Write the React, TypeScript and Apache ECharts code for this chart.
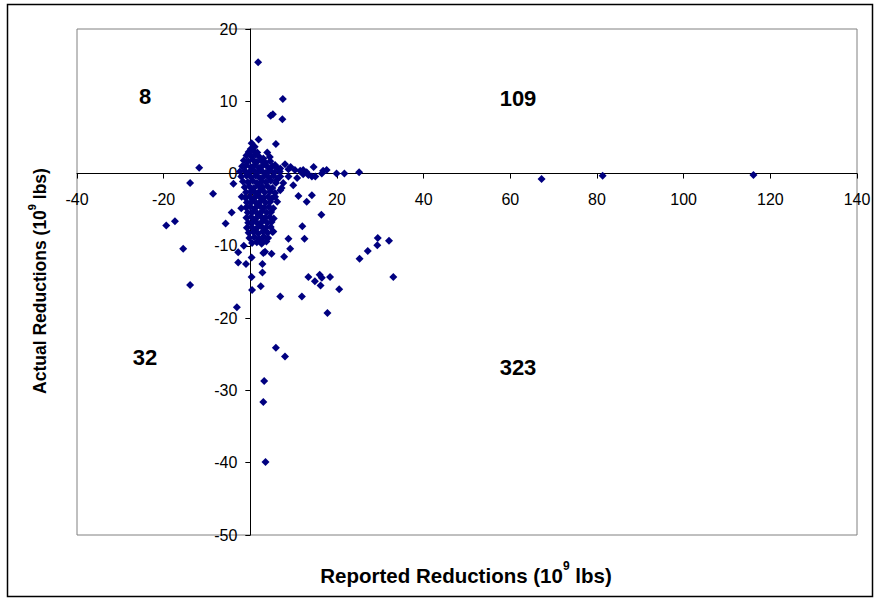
import React, { useEffect, useRef } from "react";
import * as echarts from "echarts";

// ---- Data ----
const xTicks = { min: -40, max: 140, step: 20 };
const yTicks = { min: -50, max: 20, step: 10 };

const quadrantLabels: [string, number, number][] = [
  ["8", 145, 96],
  ["109", 518, 98],
  ["32", 145, 357],
  ["323", 518, 367],
];

// dense cluster near the origin
const clusterPoints: [number, number][] = [
  [0.3, 4.2], [1.0, 3.7], [0.1, 3.4], [-0.4, 3.0], [0.8, 3.1], [1.6, 2.9],
  [-0.9, 2.5], [0.2, 2.4], [1.1, 2.6], [2.1, 2.3], [3.0, 2.1],
  [-1.5, 1.8], [-0.5, 1.7], [0.6, 1.9], [1.5, 1.6], [2.5, 1.8], [3.5, 1.5], [4.6, 1.7],
  [-1.9, 1.0], [-1.0, 1.1], [0.1, 0.9], [1.0, 1.2], [2.0, 0.8], [2.9, 1.1], [4.0, 0.9], [5.1, 1.0], [6.2, 0.8],
  [-2.4, 0.3], [-1.3, 0.4], [-0.3, 0.2], [0.7, 0.5], [1.7, 0.2], [2.6, 0.4], [3.6, 0.1], [4.5, 0.4], [5.6, 0.2], [6.8, 0.3],
  [-2.1, -0.4], [-0.9, -0.3], [0.2, -0.5], [1.2, -0.3], [2.2, -0.6], [3.1, -0.4], [4.2, -0.5], [5.3, -0.3], [6.4, -0.6],
  [-1.7, -1.1], [-0.6, -1.2], [0.5, -1.0], [1.5, -1.3], [2.6, -1.1], [3.6, -1.2], [4.7, -1.0], [5.9, -1.3],
  [-1.3, -1.9], [-0.2, -1.8], [0.8, -2.0], [1.9, -1.7], [2.9, -1.9], [4.0, -1.8], [5.1, -2.0],
  [-1.0, -2.6], [0.1, -2.5], [1.2, -2.7], [2.2, -2.4], [3.3, -2.6], [4.5, -2.5], [5.7, -2.7],
  [-1.2, -3.3], [-0.1, -3.2], [0.9, -3.4], [2.0, -3.1], [3.1, -3.3], [4.1, -3.2], [5.0, -3.4],
  [-0.8, -4.0], [0.3, -3.9], [1.4, -4.1], [2.4, -3.8], [3.5, -4.0], [4.6, -3.9],
  [-1.0, -4.7], [0.0, -4.6], [1.1, -4.8], [2.2, -4.5], [3.2, -4.7], [4.3, -4.6], [5.3, -4.8],
  [-0.6, -5.4], [0.5, -5.3], [1.6, -5.5], [2.7, -5.2], [3.8, -5.4], [4.8, -5.3],
  [-0.9, -6.1], [0.2, -6.0], [1.3, -6.2], [2.4, -5.9], [3.4, -6.1], [4.5, -6.0], [5.4, -6.2],
  [-0.5, -6.8], [0.6, -6.7], [1.7, -6.9], [2.8, -6.6], [3.9, -6.8], [4.9, -6.7],
  [-0.8, -7.5], [0.3, -7.4], [1.4, -7.6], [2.5, -7.3], [3.6, -7.5], [4.7, -7.4],
  [-0.4, -8.2], [0.7, -8.1], [1.8, -8.3], [2.9, -8.0], [4.0, -8.2], [5.1, -8.1],
  [-0.2, -8.9], [0.9, -8.8], [2.0, -9.0], [3.1, -8.7], [4.1, -8.9],
  [0.4, -9.6], [1.5, -9.5], [2.6, -9.7], [3.7, -9.4],
];

// points left of the y axis
const leftPoints: [number, number][] = [
  [-11.8, 0.8], [-13.9, -1.3], [-8.6, -2.8], [-3.9, -1.4], [-4.3, -5.4], [-5.7, -6.9],
  [-2.0, -3.2], [-2.1, -4.8], [-19.4, -7.2], [-17.4, -6.6], [-15.5, -10.4], [-13.9, -15.4],
  [-1.5, -10.0], [-2.8, -10.9], [-2.8, -12.3], [-1.0, -12.5], [-3.1, -18.5],
];

// points above the cluster
const upperPoints: [number, number][] = [
  [1.8, 15.4], [7.5, 10.3], [4.7, 8.0], [5.2, 8.2], [7.4, 7.5], [1.9, 4.7],
  [5.9, 4.1], [3.9, 2.9], [4.5, 2.3], [8.0, 1.3],
];

// points along the x axis
const axisTailPoints: [number, number][] = [
  [25.1, 0.2], [21.7, 0.0], [19.9, 0.0], [17.6, 0.5], [16.5, 0.0], [14.6, 0.9], [14.2, -0.4],
  [13.0, 0.2], [12.2, 0.5], [12.2, -0.1], [11.5, 0.4], [10.3, 0.5], [8.8, 0.6], [8.8, -0.4],
  [6.9, -0.4], [6.1, -0.9], [7.6, -1.3], [9.9, -1.6], [16.8, 0.4], [13.4, -0.2], [15.0, -0.4],
  [5.7, 1.2], [6.9, 0.7], [7.2, -2.0], [6.9, -2.3], [5.7, -3.2], [9.3, 0.9], [10.8, -0.6],
  [67.2, -0.75], [81.3, -0.3], [116.1, -0.2],
];

// points below and right of the cluster
const lowerPoints: [number, number][] = [
  [11.1, -3.1], [14.2, -3.0], [13.0, -3.9], [16.4, -5.7], [6.2, -3.9], [12.0, -7.3], [12.5, -9.0],
  [5.3, -8.0], [9.2, -10.4], [7.8, -11.5], [4.9, -11.1], [3.0, -11.0], [2.9, -9.4], [2.8, -12.5],
  [2.8, -13.7], [2.4, -15.6], [0.3, -11.6], [0.3, -14.3], [0.4, -16.1], [6.9, -17.0], [11.9, -17.0],
  [17.8, -19.3], [13.4, -14.3], [14.9, -14.9], [16.0, -14.0], [16.5, -14.4], [16.2, -15.5],
  [18.4, -14.3], [20.5, -16.0], [25.2, -11.8], [27.1, -10.7], [29.3, -9.9], [29.4, -8.9],
  [32.0, -9.3], [33.0, -14.3], [8.8, -9.0], [3.4, -10.8], [5.9, -24.1], [8.0, -25.3],
  [3.2, -28.7], [3.0, -31.6], [3.5, -39.9],
];

const FONT = "'Liberation Sans', Arial, sans-serif";

const W = 877;
const H = 601;
const GRID = { left: 77, right: 20, top: 29, bottom: 66 };

export default function App() {
  const ref = useRef<HTMLDivElement>(null);

  useEffect(() => {
    if (!ref.current) return;
    const chart = echarts.init(ref.current, null, { renderer: "svg" });
    const allPoints = [
      ...clusterPoints,
      ...leftPoints,
      ...upperPoints,
      ...axisTailPoints,
      ...lowerPoints,
    ];
    // place the axes through the origin by offsetting them inward
    const gridW = W - GRID.left - GRID.right;
    const gridH = H - GRID.top - GRID.bottom;
    const zeroFromLeft = (gridW * (0 - xTicks.min)) / (xTicks.max - xTicks.min);
    const zeroFromBottom = (gridH * (0 - yTicks.min)) / (yTicks.max - yTicks.min);

    const richFor = (size: number, sup: number) => ({
      a: { fontSize: size, fontWeight: "bold", fontFamily: FONT, color: "#000", lineHeight: size + 5, verticalAlign: "bottom" },
      s: { fontSize: sup, fontWeight: "bold", fontFamily: FONT, color: "#000", verticalAlign: "top" },
    });
    chart.setOption({
      animation: false,
      backgroundColor: "#fff",
      grid: {
        ...GRID,
        show: true,
        borderColor: "#808080",
        borderWidth: 1,
        backgroundColor: "transparent",
      },
      xAxis: {
        type: "value",
        position: "bottom",
        offset: -zeroFromBottom,
        min: xTicks.min,
        max: xTicks.max,
        interval: xTicks.step,
        axisLine: { show: true, onZero: false, lineStyle: { color: "#000", width: 1 } },
        axisTick: { show: true, length: 5, lineStyle: { color: "#000" } },
        axisLabel: { margin: 18, fontSize: 16, color: "#000", fontFamily: FONT },
        splitLine: { show: false },
      },
      yAxis: {
        type: "value",
        position: "left",
        offset: -zeroFromLeft,
        min: yTicks.min,
        max: yTicks.max,
        interval: yTicks.step,
        axisLine: { show: true, onZero: false, lineStyle: { color: "#000", width: 1 } },
        axisTick: { show: true, length: 5, lineStyle: { color: "#000" } },
        axisLabel: { margin: 13, fontSize: 16, color: "#000", fontFamily: FONT },
        splitLine: { show: false },
      },
      series: [
        {
          type: "scatter",
          data: allPoints,
          symbol: "diamond",
          symbolSize: 8,
          itemStyle: { color: "#000080", opacity: 1 },
        },
      ],
      graphic: [
        {
          type: "rect",
          shape: { x: 7.5, y: 4.5, width: 865, height: 592 },
          style: { fill: "none", stroke: "#000", lineWidth: 1.5 },
          silent: true,
        },
        {
          type: "text",
          x: 466,
          y: 573,
          style: {
            text: "{a|Reported Reductions (10}{s|9}{a| lbs)}",
            align: "center",
            verticalAlign: "middle",
            rich: richFor(20.5, 12),
          },
        },
        {
          type: "text",
          x: 38,
          y: 281,
          rotation: Math.PI / 2,
          style: {
            text: "{a|Actual Reductions (10}{s|9}{a| lbs)}",
            align: "center",
            verticalAlign: "middle",
            rich: richFor(17.5, 11),
          },
        },
        ...quadrantLabels.map(([t, x, y]) => ({
          type: "text",
          x,
          y,
          style: {
            text: t,
            align: "center",
            verticalAlign: "middle",
            fontSize: 22,
            fontWeight: "bold",
            fontFamily: FONT,
            fill: "#000",
          },
        })),
      ],
    });
    return () => chart.dispose();
  }, []);

  return (
    <div
      ref={ref}
      style={{ position: "fixed", left: 0, top: 0, width: W, height: H, background: "#fff" }}
    />
  );
}
